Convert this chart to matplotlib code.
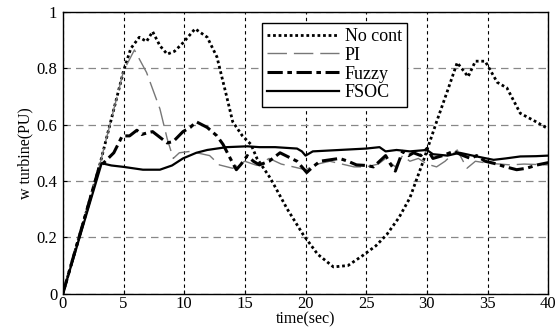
import matplotlib
matplotlib.use("Agg")
import matplotlib.pyplot as plt

plt.rcParams['font.family'] = ['Liberation Serif', 'DejaVu Serif']

# curvas (tempo em s, velocidade em PU)
t_nocont = [0, 3, 4, 5, 5.6, 6.3, 6.9, 7.4, 8, 8.6, 9.2, 9.9, 10.9, 11.9, 12.7, 13.5,
            14, 14.8, 15.5, 16, 17.1, 18.5, 19.8, 21, 22.3, 23.5, 24.7, 25.8, 26.7,
            27.7, 28.6, 29.7, 30.8, 31.7, 32.5, 33.4, 34, 34.8, 35.8, 36.6, 37.7, 39, 40]
w_nocont = [0, 0.45, 0.62, 0.79, 0.87, 0.91, 0.895, 0.93, 0.88, 0.85, 0.86, 0.89, 0.94,
            0.91, 0.84, 0.70, 0.61, 0.56, 0.53, 0.48, 0.41, 0.30, 0.21, 0.14, 0.095, 0.10,
            0.135, 0.17, 0.21, 0.27, 0.34, 0.47, 0.61, 0.72, 0.82, 0.77, 0.825, 0.825,
            0.75, 0.73, 0.64, 0.61, 0.585]

t_pi = [0, 3, 4, 5, 5.9, 6.9, 8, 8.6, 9.1, 9.6, 10.5, 12.1, 12.9, 14, 15, 16, 17, 18,
        19, 20, 21, 22, 23, 24, 25, 26, 26.6, 27.4, 28, 28.6, 29.3, 30, 30.8, 31.5, 32.5,
        33.3, 34, 35, 36, 36.9, 38, 40]
w_pi = [0, 0.45, 0.62, 0.79, 0.865, 0.785, 0.656, 0.55, 0.48, 0.5, 0.505, 0.49, 0.457,
        0.445, 0.47, 0.455, 0.48, 0.46, 0.45, 0.44, 0.46, 0.47, 0.46, 0.45, 0.45, 0.46,
        0.48, 0.45, 0.49, 0.47, 0.48, 0.46, 0.45, 0.47, 0.51, 0.445, 0.47, 0.463, 0.46,
        0.457, 0.46, 0.457]

t_fuzzy = [0, 3, 3.5, 4.2, 4.9, 5.5, 6.1, 6.5, 6.9, 7.4, 8, 8.6, 9.1, 9.9, 10.5, 11,
           11.9, 12.7, 13.2, 13.8, 14.3, 14.7, 15.2, 15.7, 16.2, 17, 17.9, 18.6, 19.3,
           20.1, 20.6, 21.2, 22, 22.8, 23.5, 24.2, 25, 25.6, 26.1, 26.6, 27, 27.4, 28,
           28.5, 28.9, 29.5, 30, 30.5, 31.3, 32.2, 33, 33.6, 34.1, 34.8, 35.5, 36.5,
           37.4, 38.2, 39.1, 40]
w_fuzzy = [0, 0.45, 0.47, 0.5, 0.56, 0.56, 0.58, 0.565, 0.57, 0.575, 0.555, 0.535, 0.54,
           0.575, 0.59, 0.61, 0.59, 0.56, 0.53, 0.48, 0.44, 0.46, 0.49, 0.47, 0.457,
           0.47, 0.50, 0.485, 0.47, 0.43, 0.45, 0.47, 0.475, 0.48, 0.47, 0.457, 0.455,
           0.45, 0.47, 0.49, 0.46, 0.435, 0.505, 0.49, 0.5, 0.49, 0.515, 0.48, 0.49,
           0.505, 0.49, 0.48, 0.49, 0.47, 0.463, 0.45, 0.44, 0.445, 0.457, 0.465]

t_fsoc = [0, 3.2, 4, 5, 6.6, 8, 9, 9.9, 11, 11.9, 13.5, 15.2, 16.2, 17.5, 19.3, 19.7,
          20, 20.6, 22.8, 25, 26.1, 26.6, 27.5, 28.6, 30, 30.5, 31.7, 32.7, 34.1, 35.5,
          36.5, 37.7, 39, 40]
w_fsoc = [0, 0.463, 0.455, 0.45, 0.44, 0.44, 0.455, 0.48, 0.5, 0.51, 0.52, 0.523, 0.52,
          0.52, 0.515, 0.505, 0.49, 0.505, 0.51, 0.515, 0.52, 0.505, 0.51, 0.505, 0.51,
          0.495, 0.49, 0.5, 0.487, 0.475, 0.48, 0.487, 0.488, 0.49]

xticks = [0, 5, 10, 15, 20, 25, 30, 35, 40]
yticks = [0, 0.2, 0.4, 0.6, 0.8, 1]
ytick_labels = ['0', '0.2', '0.4', '0.6', '0.8', '1']

fig = plt.figure(figsize=(5.56, 3.30), dpi=100)
ax = fig.add_axes([0.113, 0.11, 0.873, 0.854])

ax.plot(t_nocont, w_nocont, color='black', linestyle=(0, (1, 1)), linewidth=2.0, label='No cont')
ax.plot(t_pi, w_pi, color='#777777', linestyle=(0, (14, 5)), linewidth=1.0, label='PI')
ax.plot(t_fuzzy, w_fuzzy, color='black', linestyle=(0, (5, 1.5, 1.5, 1.5)), linewidth=2.2, label='Fuzzy')
ax.plot(t_fsoc, w_fsoc, color='black', linestyle='-', linewidth=1.6, label='FSOC')

ax.set_xlim(0, 40)
ax.set_ylim(0, 1)
ax.set_xticks(xticks)
ax.set_yticks(yticks)
ax.set_yticklabels(ytick_labels)
ax.tick_params(direction='in', length=3, labelsize=12, pad=4)
ax.tick_params(axis='x', pad=2)

ax.xaxis.grid(True, color='black', linestyle=(0, (3, 3)), linewidth=0.8)
ax.yaxis.grid(True, color='#888888', linestyle=(0, (6, 4)), linewidth=0.9)
for s in ax.spines.values():
    s.set_linewidth(1.0)

ax.set_xlabel('time(sec)', fontsize=11.5, labelpad=-1)
ax.set_ylabel('w turbine(PU)', fontsize=11.5, labelpad=2)

leg = ax.legend(loc='upper left', bbox_to_anchor=(0.41, 0.962), fontsize=13,
                frameon=True, fancybox=False, handlelength=4.0, borderpad=0.3,
                labelspacing=0.1, handletextpad=0.3, borderaxespad=0)
leg.get_frame().set_edgecolor('black')
leg.get_frame().set_linewidth(1.0)
leg.get_frame().set_alpha(1)

fig.savefig('out.png', dpi=100)
